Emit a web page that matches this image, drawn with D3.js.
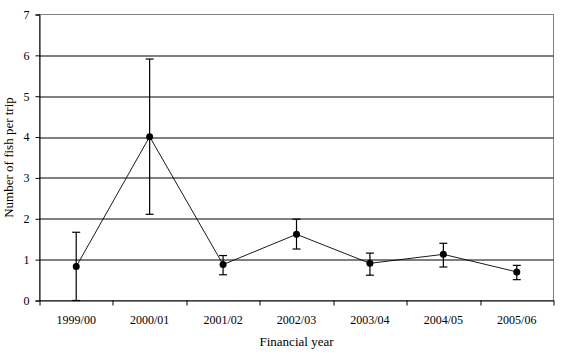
<!DOCTYPE html>
<html>
<head>
<meta charset="utf-8">
<script src="https://cdn.jsdelivr.net/npm/d3@7"></script>
<style>
  body { margin: 0; background: #fff; }
</style>
</head>
<body>
<div id="chart"></div>
<script>
// financial years and mean catch per trip, with error bar bounds
const years = ['1999/00', '2000/01', '2001/02', '2002/03', '2003/04', '2004/05', '2005/06'];
const means = [0.83, 4.01, 0.88, 1.62, 0.91, 1.13, 0.70];
const upper = [1.67, 5.91, 1.10, 1.99, 1.16, 1.40, 0.86];
const lower = [0.00, 2.11, 0.63, 1.26, 0.62, 0.82, 0.51];
const yTicks = [0, 1, 2, 3, 4, 5, 6, 7];

const FONT = 'Liberation Serif';
const width = 566, height = 354;
const margin = { top: 14.5, right: 12.5, bottom: 53.5, left: 39.5 };
const w = width - margin.left - margin.right;
const h = height - margin.top - margin.bottom;

const svg = d3.select('#chart').append('svg')
  .attr('width', width).attr('height', height)
  .attr('font-family', FONT);
const g = svg.append('g').attr('transform', `translate(${margin.left},${margin.top})`);

const x = d3.scaleBand().domain(years).range([0, w]);
const y = d3.scaleLinear().domain([0, 7]).range([h, 0]);

// plot frame (gray) and gridlines (black)
g.append('rect').attr('x', 0).attr('y', 0).attr('width', w).attr('height', h)
  .attr('fill', 'none').attr('stroke', '#808080').attr('stroke-width', 1);

g.append('g').selectAll('line')
  .data(yTicks.filter(t => t > 0 && t < 7)).join('line')
  .attr('x1', 0).attr('x2', w)
  .attr('y1', d => Math.round(y(d)) + 0.5).attr('y2', d => Math.round(y(d)) + 0.5)
  .attr('stroke', '#000').attr('stroke-width', 1);

// axes
const yAxis = g.append('g')
  .call(d3.axisLeft(y).tickValues(yTicks).tickFormat(d3.format('d')).tickSize(4).tickPadding(6));
const xAxis = g.append('g').attr('transform', `translate(0,${h})`)
  .call(d3.axisBottom(x).tickSize(0).tickPadding(15));

[yAxis, xAxis].forEach(a => {
  a.attr('font-family', FONT).attr('font-size', 12);
  a.select('.domain').attr('stroke', '#000');
  a.selectAll('.tick line').attr('stroke', '#000');
  a.selectAll('text').attr('fill', '#000');
});

// x ticks sit between categories
g.append('g').selectAll('line')
  .data(d3.range(years.length + 1)).join('line')
  .attr('x1', d => Math.round(d * x.step()) + 0.5).attr('x2', d => Math.round(d * x.step()) + 0.5)
  .attr('y1', h).attr('y2', h + 5)
  .attr('stroke', '#000');

const cx = d => x(d) + x.bandwidth() / 2;
const data = years.map((yr, i) => ({ yr, m: means[i], hi: upper[i], lo: lower[i] }));

// error bars
const eb = g.append('g').attr('stroke', '#000').attr('stroke-width', 1.2);
eb.selectAll('.v').data(data).join('line')
  .attr('x1', d => cx(d.yr)).attr('x2', d => cx(d.yr))
  .attr('y1', d => y(d.hi)).attr('y2', d => y(d.lo));
eb.selectAll('.t').data(data).join('line')
  .attr('x1', d => cx(d.yr) - 4).attr('x2', d => cx(d.yr) + 4)
  .attr('y1', d => y(d.hi)).attr('y2', d => y(d.hi));
eb.selectAll('.b').data(data).join('line')
  .attr('x1', d => cx(d.yr) - 4).attr('x2', d => cx(d.yr) + 4)
  .attr('y1', d => y(d.lo)).attr('y2', d => y(d.lo));

// line + markers
g.append('path').datum(data)
  .attr('fill', 'none').attr('stroke', '#000').attr('stroke-width', 0.9)
  .attr('d', d3.line().x(d => cx(d.yr)).y(d => y(d.m)));

g.append('g').selectAll('circle').data(data).join('circle')
  .attr('cx', d => cx(d.yr)).attr('cy', d => y(d.m)).attr('r', 3.5)
  .attr('fill', '#000');

// axis titles
svg.append('text')
  .attr('x', margin.left + w / 2).attr('y', 346)
  .attr('text-anchor', 'middle').attr('font-size', 13)
  .text('Financial year');

svg.append('text')
  .attr('transform', `translate(13,${margin.top + h / 2}) rotate(-90)`)
  .attr('text-anchor', 'middle').attr('font-size', 13)
  .text('Number of fish per trip');
</script>
</body>
</html>
